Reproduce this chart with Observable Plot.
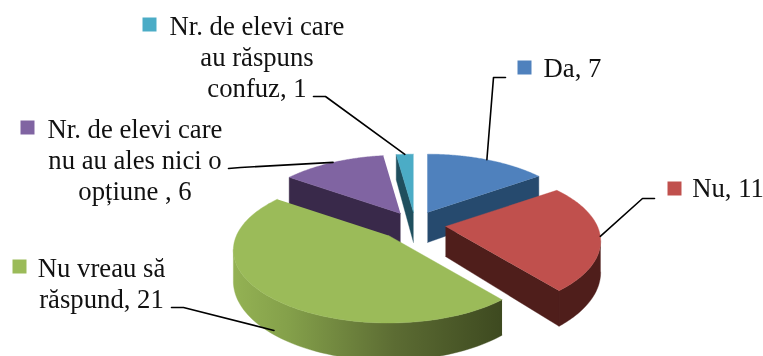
<!DOCTYPE html>
<html>
<head>
<meta charset="utf-8">
<style>html,body{margin:0;padding:0;background:#fff}svg{display:block}</style>
<script src="https://cdn.jsdelivr.net/npm/d3@7"></script>
<script src="https://cdn.jsdelivr.net/npm/@observablehq/plot@0.6"></script>
</head>
<body>
<div id="chart"></div>
<script>
// Data, in pie order (clockwise from the top)
const categories = ["Da", "Nu", "Nu vreau să\nrăspund", "Nr. de elevi care\nnu au ales nici o\nopțiune ", "Nr. de elevi care\nau răspuns\nconfuz"];
const values = [7, 11, 21, 6, 1];

// Styles
const topColors = ["#4f81bd", "#c0504d", "#9bbb59", "#8064a2", "#4bacc6"];
const sideColors = ["#264a6e", "#4f1e1b", "url(#greenRim)", "#39294a", "#1f4f5e"];

// Layout: exploded apex of every slice, label anchors, swatches, leader elbows
const apexes = [[427, 212], [445, 226], [388, 235], [400, 213], [413, 212]];
const labelAnchors = [[572, 67], [727.5, 187], [101, 282], [134.5, 159], [256.5, 56]];
const swatches = [[524, 67], [674, 188], [19, 266], [27, 127], [149, 24]];
const elbows = [
  [[505, 77], [493, 77]],
  [[654, 198], [642, 198]],
  [[171, 307], [183, 307]],
  [[228, 168], [240, 167]],
  [[313, 96], [325, 96]]
];
const paintOrder = [4, 3, 0, 1, 2];
const R = 152, RY = 70, K = 0.2, H = 30, FONT = 26.7;

// Pie layout and projection of the tilted disc
const arcs = d3.pie().sort(null).startAngle(0).endAngle(2 * Math.PI)(values);
const project = (i, a, r = 1) => {
  const X = r * Math.sin(a), Y = -r * Math.cos(a), s = 1 / (1 - K * Y);
  return {x: apexes[i][0] + X * R * s, y: apexes[i][1] + Y * RY * s, s};
};
const arcPoints = (i, a0, a1) => d3.range(0, 97).map(k => project(i, a0 + (a1 - a0) * k / 96));
const drop = p => ({x: p.x, y: p.y + H * p.s});
const wall = (i, a) => {
  const o = project(i, a, 0), e = project(i, a);
  return [o, e, drop(e), drop(o)];
};

// Faces drawn back to front
const faces = [];
for (const i of paintOrder) {
  const {startAngle: a0, endAngle: a1} = arcs[i];
  const rim = arcPoints(i, a0, a1);
  // visible rim: the part of the arc that runs leftwards on screen
  let run = [];
  const flush = () => {
    if (run.length > 1) faces.push({pts: [...run, ...run.slice().reverse().map(drop)], fill: sideColors[i]});
    run = [];
  };
  rim.forEach((p, k) => {
    const q = rim[k + 1];
    if (q && q.x < p.x) { if (!run.length) run.push(p); run.push(q); } else flush();
  });
  flush();
  const o = project(i, a0, 0);
  if (project(i, a0).x < o.x - 0.01) faces.push({pts: wall(i, a0), fill: sideColors[i]});
  if (project(i, a1).x > o.x + 0.01) faces.push({pts: wall(i, a1), fill: sideColors[i]});
  faces.push({pts: [o, ...rim], fill: topColors[i]});
}

// Leader lines end on the rim at the slice's mid angle
const leaders = values.map((_, i) => {
  const p = project(i, (arcs[i].startAngle + arcs[i].endAngle) / 2);
  const end = i === 2 ? {x: p.x + 7, y: p.y + 35} : p;
  return [...elbows[i].map(([x, y]) => ({x, y})), end];
});

const labels = categories.map((c, i) => ({
  text: `${c}, ${values[i]}`, x: labelAnchors[i][0], y: labelAnchors[i][1]
}));
const swatchRows = swatches.map(([x, y], i) => ({x, y, fill: topColors[i]}));

const gradient = () => {
  const ns = "http://www.w3.org/2000/svg";
  const g = document.createElementNS(ns, "linearGradient");
  g.setAttribute("id", "greenRim");
  g.setAttribute("gradientUnits", "userSpaceOnUse");
  g.setAttribute("x1", 235); g.setAttribute("x2", 500);
  g.setAttribute("y1", 0); g.setAttribute("y2", 0);
  [[0, "#93b153"], [0.2, "#84a04a"], [0.6, "#5c6c33"], [1, "#3e4a20"]].forEach(([o, c]) => {
    const s = document.createElementNS(ns, "stop");
    s.setAttribute("offset", o); s.setAttribute("stop-color", c);
    g.appendChild(s);
  });
  const d = document.createElementNS(ns, "defs");
  d.appendChild(g);
  return d;
};

const chart = Plot.plot({
  width: 763, height: 356,
  margin: 0,
  x: {domain: [0, 763], range: [0, 763], axis: null},
  y: {domain: [0, 356], range: [0, 356], axis: null},
  style: {background: "#fff", filter: "blur(0.35px)"},
  marks: [
    gradient,
    ...faces.map(f => Plot.line(f.pts, {x: "x", y: "y", fill: f.fill, stroke: f.fill, strokeWidth: 0.4})),
    ...leaders.map(l => Plot.line(l, {x: "x", y: "y", stroke: "#000", strokeWidth: 1.6})),
    Plot.dot(swatchRows, {x: "x", y: "y", symbol: "square", r: 7.9, fill: d => d.fill, stroke: "none"}),
    Plot.text(labels, {
      x: "x", y: "y", text: "text", textAnchor: "middle", lineAnchor: "middle",
      lineHeight: 31 / FONT, fontSize: FONT, fontFamily: "Liberation Serif", fill: "#111"
    })
  ]
});
document.getElementById("chart").appendChild(chart);
</script>
</body>
</html>
